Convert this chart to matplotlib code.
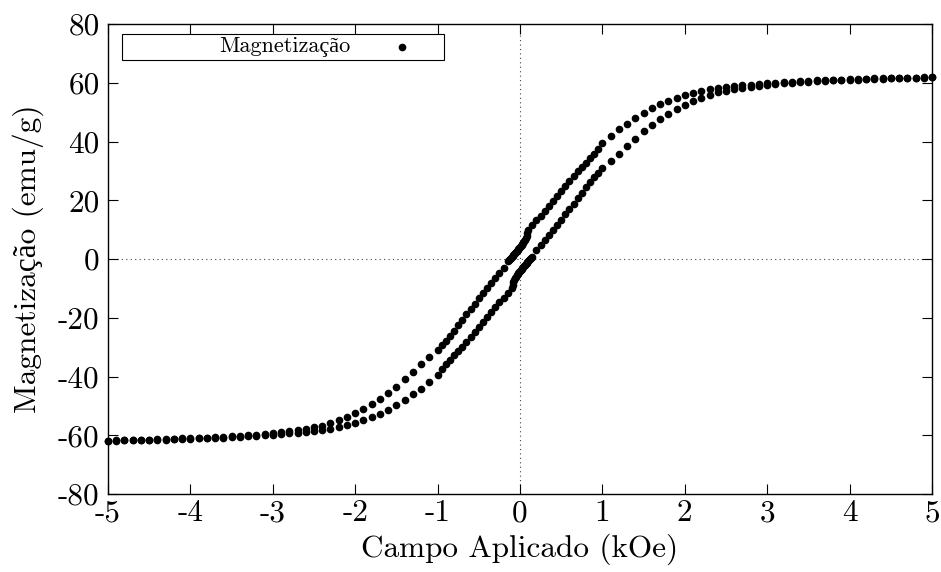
import matplotlib
matplotlib.use("Agg")
import matplotlib.pyplot as plt
from matplotlib.patches import Rectangle

# ---- data: descending branch (+5 -> -5 kOe) ----
H_desc = [5.0, 4.9, 4.8, 4.7, 4.6, 4.5, 4.4, 4.3, 4.2, 4.1, 4.0, 3.9, 3.8, 3.7, 3.6,
          3.5, 3.4, 3.3, 3.2, 3.1, 3.0, 2.9, 2.8, 2.7, 2.6, 2.5, 2.4, 2.3, 2.2, 2.1,
          2.0, 1.9, 1.8, 1.7, 1.6, 1.5, 1.4, 1.3, 1.2, 1.1, 1.0, 0.95, 0.9, 0.85, 0.8,
          0.75, 0.7, 0.65, 0.6, 0.55, 0.5, 0.45, 0.4, 0.35, 0.3, 0.25, 0.2, 0.15,
          0.10, 0.09, 0.08, 0.07, 0.06, 0.05, 0.04, 0.03, 0.02, 0.01, 0.0, -0.01, -0.02,
          -0.03, -0.04, -0.05, -0.06, -0.07, -0.08, -0.09, -0.10, -0.11, -0.12, -0.13, -0.14,
          -0.2, -0.25, -0.3, -0.35, -0.4, -0.45, -0.5, -0.55, -0.6, -0.65, -0.7, -0.75,
          -0.8, -0.85, -0.9, -0.95, -1.0, -1.1, -1.2, -1.3, -1.4, -1.5, -1.6, -1.7, -1.8,
          -1.9, -2.0, -2.1, -2.2, -2.3, -2.4, -2.5, -2.6, -2.7, -2.8, -2.9, -3.0, -3.1,
          -3.2, -3.3, -3.4, -3.5, -3.6, -3.7, -3.8, -3.9, -4.0, -4.1, -4.2, -4.3, -4.4,
          -4.5, -4.6, -4.7, -4.8, -4.9, -5.0]
M_desc = [61.8, 61.8, 61.7, 61.7, 61.6, 61.6, 61.5, 61.5, 61.4, 61.3, 61.2, 61.1, 61.0, 60.9, 60.8,
          60.7, 60.5, 60.4, 60.2, 60.0, 59.9, 59.7, 59.4, 59.2, 59.0, 58.7, 58.2, 57.8, 57.2, 56.6,
          55.8, 54.9, 53.9, 52.8, 51.4, 49.8, 47.9, 46.1, 44.3, 42.0, 39.6, 37.6, 35.7, 34.3, 32.8,
          31.4, 30.0, 28.3, 26.6, 24.9, 23.1, 21.4, 19.7, 18.0, 16.4, 14.8, 13.2, 11.6,
          9.9, 8.8, 7.9, 7.1, 6.5, 6.0, 5.5, 5.1, 4.8, 4.5, 4.2, 3.8, 3.5,
          3.1, 2.8, 2.4, 2.1, 1.7, 1.4, 1.0, 0.7, 0.3, 0.0, -0.4, -0.7,
          -3.0, -4.8, -6.5, -8.2, -10.0, -11.7, -13.4, -15.2, -17.0, -18.8, -20.6, -22.5,
          -24.4, -26.1, -27.8, -29.4, -31.0, -33.2, -35.6, -38.4, -41.0, -43.5, -45.7, -47.7, -49.5,
          -51.1, -52.5, -53.7, -54.8, -55.9, -56.7, -57.3, -57.9, -58.3, -58.7, -59.0, -59.3, -59.6,
          -59.8, -60.0, -60.2, -60.4, -60.5, -60.7, -60.8, -60.9, -61.0, -61.1, -61.2, -61.3, -61.4,
          -61.5, -61.5, -61.6, -61.7, -61.7, -61.8]

# ---- data: ascending branch (-5 -> +5 kOe) ----
H_asc = [-5.0, -4.9, -4.8, -4.7, -4.6, -4.5, -4.4, -4.3, -4.2, -4.1, -4.0, -3.9, -3.8, -3.7, -3.6,
         -3.5, -3.4, -3.3, -3.2, -3.1, -3.0, -2.9, -2.8, -2.7, -2.6, -2.5, -2.4, -2.3, -2.2, -2.1,
         -2.0, -1.9, -1.8, -1.7, -1.6, -1.5, -1.4, -1.3, -1.2, -1.1, -1.0, -0.95, -0.9, -0.85, -0.8,
         -0.75, -0.7, -0.65, -0.6, -0.55, -0.5, -0.45, -0.4, -0.35, -0.3, -0.25, -0.2, -0.15,
         -0.10, -0.09, -0.08, -0.07, -0.06, -0.05, -0.04, -0.03, -0.02, -0.01, 0.0, 0.01, 0.02,
         0.03, 0.04, 0.05, 0.06, 0.07, 0.08, 0.09, 0.10, 0.11, 0.12, 0.13, 0.14,
         0.2, 0.25, 0.3, 0.35, 0.4, 0.45, 0.5, 0.55, 0.6, 0.65, 0.7, 0.75,
         0.8, 0.85, 0.9, 0.95, 1.0, 1.1, 1.2, 1.3, 1.4, 1.5, 1.6, 1.7, 1.8,
         1.9, 2.0, 2.1, 2.2, 2.3, 2.4, 2.5, 2.6, 2.7, 2.8, 2.9, 3.0, 3.1,
         3.2, 3.3, 3.4, 3.5, 3.6, 3.7, 3.8, 3.9, 4.0, 4.1, 4.2, 4.3, 4.4,
         4.5, 4.6, 4.7, 4.8, 4.9, 5.0]
M_asc = [-61.8, -61.8, -61.7, -61.7, -61.6, -61.6, -61.5, -61.5, -61.4, -61.3, -61.2, -61.1, -61.0, -60.9, -60.8,
         -60.7, -60.5, -60.4, -60.2, -60.0, -59.9, -59.7, -59.4, -59.2, -59.0, -58.7, -58.2, -57.8, -57.2, -56.6,
         -55.8, -54.9, -53.9, -52.8, -51.4, -49.8, -47.9, -46.1, -44.3, -42.0, -39.6, -37.6, -35.7, -34.3, -32.8,
         -31.4, -30.0, -28.3, -26.6, -24.9, -23.1, -21.4, -19.7, -18.0, -16.4, -14.8, -13.2, -11.6,
         -9.9, -8.8, -7.9, -7.1, -6.5, -6.0, -5.5, -5.1, -4.8, -4.5, -4.2, -3.8, -3.5,
         -3.1, -2.8, -2.4, -2.1, -1.7, -1.4, -1.0, -0.7, -0.3, 0.0, 0.4, 0.7,
         3.0, 4.8, 6.5, 8.2, 10.0, 11.7, 13.4, 15.2, 17.0, 18.8, 20.6, 22.5,
         24.4, 26.1, 27.8, 29.4, 31.0, 33.2, 35.6, 38.4, 41.0, 43.5, 45.7, 47.7, 49.5,
         51.1, 52.5, 53.7, 54.8, 55.9, 56.7, 57.3, 57.9, 58.3, 58.7, 59.0, 59.3, 59.6,
         59.8, 60.0, 60.2, 60.4, 60.5, 60.7, 60.8, 60.9, 61.0, 61.1, 61.2, 61.3, 61.4,
         61.5, 61.5, 61.6, 61.7, 61.7, 61.8]

x_ticks = [-5, -4, -3, -2, -1, 0, 1, 2, 3, 4, 5]
y_ticks = [-80, -60, -40, -20, 0, 20, 40, 60, 80]
x_label = "Campo Aplicado (kOe)"
y_label = "Magnetização (emu/g)"
legend_label = "Magnetização"

FONT = ["cmr10", "Liberation Serif"]
plt.rcParams["font.family"] = FONT
plt.rcParams["axes.unicode_minus"] = False

FS = 22.5
MS = 4.5

fig = plt.figure(figsize=(9.41, 5.72), dpi=100)
ax = fig.add_axes([108 / 941, 1 - 494 / 572, (932 - 108) / 941, (494 - 24) / 572])

ax.axhline(0, color="#444444", lw=0.8, ls=(0, (1, 3)), zorder=1)
ax.axvline(0, color="#444444", lw=0.8, ls=(0, (1, 3)), zorder=1)

ax.plot(H_desc, M_desc, ls="none", marker="o", ms=MS, color="black", clip_on=False, zorder=3)
ax.plot(H_asc, M_asc, ls="none", marker="o", ms=MS, color="black", clip_on=False, zorder=3)

ax.set_xlim(-5, 5)
ax.set_ylim(-80, 80)
ax.set_xticks(x_ticks)
ax.set_xticklabels([str(v) for v in x_ticks])
ax.set_yticks(y_ticks)
ax.set_yticklabels([str(v) for v in y_ticks])
ax.tick_params(direction="in", length=7, width=0.8, top=True, right=True,
               labelsize=FS)
ax.tick_params(axis="x", pad=4)
ax.tick_params(axis="y", pad=6)
for s in ax.spines.values():
    s.set_linewidth(1.0)

ax.set_xlabel(x_label, fontsize=FS, labelpad=4)
ax.set_ylabel(y_label, fontsize=FS, labelpad=10)

# gnuplot-style key box (upper left)
ax.add_patch(Rectangle((14 / 824, (494 - 60) / 470), (444 - 122) / 824, 26 / 470,
                       transform=ax.transAxes, fill=False, edgecolor="black",
                       lw=0.8, zorder=4, clip_on=False))
ax.text(0.2148, (494 - 47) / 470, legend_label, transform=ax.transAxes,
        ha="center", va="center", fontsize=16, zorder=5)
ax.plot([0.3564], [(494 - 47) / 470], ls="none", marker="o", ms=MS, color="black",
        transform=ax.transAxes, zorder=5, clip_on=False)

fig.savefig("out.png", dpi=100)
